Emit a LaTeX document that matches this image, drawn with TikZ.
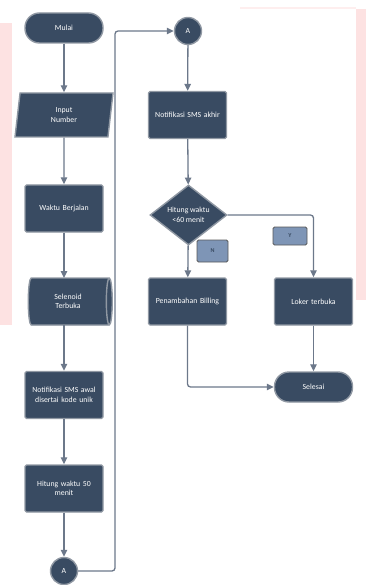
\documentclass[tikz,border=0pt]{standalone}
\usepackage{fontspec}
\setmainfont{Carlito}
\usetikzlibrary{arrows.meta,shapes.geometric,positioning}
\definecolor{nodefill}{HTML}{394B62}
\definecolor{nodeline}{HTML}{9098A3}
\definecolor{flowgray}{HTML}{6C788A}
\definecolor{tagfill}{HTML}{7E95B6}
\definecolor{pinkbg}{HTML}{FDE2E2}

\begin{document}
\begin{tikzpicture}[x=1pt,y=-1pt,thick,
	main node/.style={draw=nodeline,line width=1.4pt,fill=nodefill,text=white,font=\fontsize{7.8}{9.5}\selectfont,align=center,inner sep=1pt},
	proc node/.style={main node,rectangle,rounded corners=1.5pt,minimum width=78pt,minimum height=47pt,text width=76pt},
	term node/.style={main node,rectangle,rounded corners=14.5pt,minimum width=78pt,minimum height=30pt},
	io node/.style={main node,trapezium,trapezium left angle=73,trapezium right angle=107,trapezium stretches body,minimum width=98pt,minimum height=44pt},
	store node/.style={main node,cylinder,shape aspect=0.35,minimum height=84pt,minimum width=47pt,cylinder uses custom fill,cylinder body fill=nodefill,cylinder end fill=nodefill!75!black},
	dec node/.style={main node,diamond,aspect=1.3,inner sep=0pt,minimum width=77pt,minimum height=60pt},
	con node/.style={main node,circle,minimum size=27pt},
	tag node/.style={draw=black!65,fill=tagfill,line width=0.8pt,rounded corners=1.5pt,text=nodefill,font=\fontsize{6}{7}\selectfont\bfseries},
	flow/.style={draw=flowgray,line width=1.3pt,-{Triangle[length=7pt,width=6.5pt]}}]
	\useasboundingbox (0,0) rectangle (366,585);
	% pink page marks
	\fill[pinkbg] (0,23) rectangle (12,325);
	\fill[pinkbg] (356,9) rectangle (366,300);
	\fill[pinkbg,opacity=0.6] (240,7) rectangle (356,9);
	% left column
	\node[term node] (1) at (64,28) {Mulai};
	\node[io node] (2) at (64,115) {Input\\Number};
	\node[proc node] (3) at (64,208.5) {Waktu Berjalan};
	\node[store node] (4) at (68,301.5) {Selenoid\\Terbuka};
	\node[proc node] (5) at (64,395) {Notifikasi SMS awal\\disertai kode unik};
	\node[proc node] (6) at (64,488.5) {Hitung waktu 50\\menit};
	\node[con node] (7) at (64,571) {A};
	\coordinate (4in) at (64,278);
	\coordinate (4out) at (64,325);
	% right column
	\node[con node] (8) at (188,31) {A};
	\node[proc node] (9) at (187.5,115) {Notifikasi SMS akhir};
	\node[dec node] (10) at (188.5,215) {Hitung waktu\\<60 menit};
	\node[proc node] (11) at (187.5,301.5) {Penambahan Billing};
	\node[proc node] (12) at (313.5,301.5) {Loker terbuka};
	\node[term node] (13) at (313.5,387) {Selesai};
	\node[tag node,minimum width=34pt,minimum height=18pt] (y) at (290,236) {Y};
	\node[tag node,minimum width=31pt,minimum height=22pt] (n) at (212.5,251) {N};
	\coordinate (jump) at (115,31);
	\path[every edge/.style={flow}]
	(1) edge (2)
	(2) edge (3)
	(3) edge (4in)
	(4out) edge (5)
	(5) edge (6)
	(6) edge (7)
	(8) edge (9)
	(9) edge (10)
	(10) edge (11)
	(12) edge (13);
	\draw[flow,rounded corners=3pt] (7) -| (jump) -- (8);
	\draw[flow,rounded corners=3pt] (10) -| (12);
	\draw[flow,rounded corners=3pt] (11) |- (13);
\end{tikzpicture}
\end{document}
